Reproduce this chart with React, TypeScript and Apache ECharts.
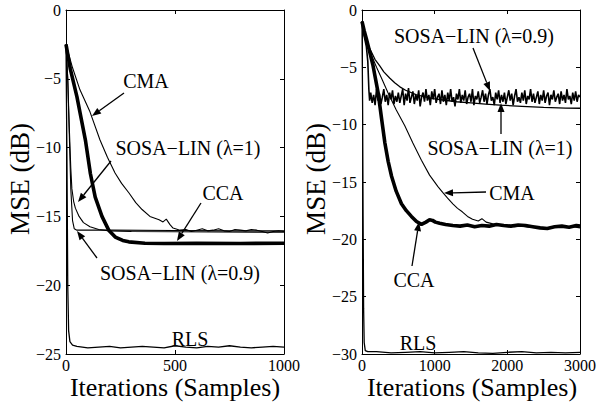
import React, { useEffect, useRef } from "react";
import * as echarts from "echarts";

// ---------- Left panel data (x: samples, y: MSE dB) ----------
const L_RLS: [number, number][] = [
  [0, -2.5], [4, -10], [8, -20], [12, -23.3], [18, -24.1], [30, -24.35], [50, -24.45],
  [100, -24.55], [150, -24.5], [200, -24.45], [250, -24.55], [300, -24.5], [350, -24.45],
  [400, -24.5], [450, -24.55], [500, -24.4], [550, -24.5], [600, -24.55], [650, -24.45],
  [700, -24.5], [750, -24.4], [800, -24.5], [850, -24.55], [900, -24.5], [950, -24.45], [1000, -24.5],
];
const L_SOSA09: [number, number][] = [
  [0, -2.5], [8, -5], [15, -9], [22, -13], [30, -15.3], [38, -15.9], [50, -16.0],
  [200, -16.0], [500, -16.02], [800, -16.05], [1000, -16.05],
];
const L_SOSA1: [number, number][] = [
  [0, -2.5], [8, -5], [15, -8.5], [22, -11.5], [27, -13.0], [35, -13.9], [43, -14.4],
  [60, -15.0], [80, -15.45], [110, -15.75], [150, -15.95], [200, -16.05], [300, -16.1],
  [500, -16.12], [1000, -16.15],
];
const L_CMA: [number, number][] = [
  [0, -2.5], [30, -4.2], [64, -5.8], [110, -7.4], [156, -9.45], [190, -10.7], [225, -11.85],
  [255, -12.6], [289, -13.3], [320, -14.0], [349, -14.5], [385, -15.0], [427, -15.25],
  [445, -15.4], [460, -15.2], [477, -15.6], [491, -15.85], [523, -16.0], [550, -15.95],
  [575, -16.1], [600, -16.0], [625, -15.9], [650, -16.05], [675, -16.0], [700, -15.9],
  [725, -16.05], [750, -16.1], [775, -15.95], [800, -16.0], [825, -16.05], [850, -15.95],
  [875, -16.0], [900, -16.1], [925, -16.2], [950, -16.1], [975, -16.05], [1000, -16.1],
];
const L_CCA: [number, number][] = [
  [0, -2.5], [20, -4.3], [50, -6.3], [89, -9.45], [112, -11.9], [134, -13.6], [165, -15.0],
  [196, -16.0], [226, -16.5], [260, -16.75], [288, -16.85], [362, -16.95], [450, -16.97],
  [600, -16.95], [800, -16.97], [1000, -16.95],
];

// ---------- Right panel data ----------
const R_RLS: [number, number][] = [
  [0, -1.0], [8, -8], [15, -18], [22, -26], [30, -29], [45, -29.7], [80, -29.8],
  [200, -29.8], [400, -29.9], [600, -29.85], [800, -29.8], [1000, -29.9], [1200, -29.85],
  [1400, -29.8], [1600, -29.9], [1800, -29.95], [2000, -29.85], [2200, -29.8], [2400, -29.9],
  [2600, -29.85], [2800, -29.9], [3000, -29.85],
];
const R_SOSA09_HEAD: [number, number][] = [
  [0, -1.0], [30, -2.3], [60, -3.2], [80, -4.5], [95, -7.0], [105, -7.9],
];
const R_SOSA09_NOISE_START = 120;
const R_SOSA09_NOISE_STEP = 20;
const R_SOSA09_NOISE: number[] = [
  -7.2, -8.1, -7.4, -8.3, -6.9, -7.9, -7.3, -8.2, -7.6, -6.9, -8.0, -7.4, -8.3, -7.2, -7.8, -7.0, -8.2, -7.5, -8.0, -7.2,
  -8.1, -7.5, -6.9, -8.3, -7.3, -7.9, -6.8, -8.1, -7.6, -7.1, -8.2, -7.4, -7.9, -7.0, -8.4, -7.6, -7.2, -8.0, -6.9, -7.9,
  -7.4, -8.3, -7.1, -7.8, -6.9, -8.1, -7.6, -7.3, -8.2, -7.0, -8.0, -7.4, -8.3, -7.2, -7.9, -6.9, -8.0, -7.6, -8.4, -7.3,
  -7.8, -6.9, -8.1, -7.4, -7.9, -7.0, -8.2, -7.6, -7.3, -8.0, -6.9, -8.3, -7.5, -7.8, -7.1, -8.1, -7.6, -7.0, -8.0, -7.3,
  -8.2, -7.4, -6.9, -7.9, -7.6, -8.3, -7.2, -7.8, -7.0, -8.1, -7.4, -8.0, -7.2, -8.2, -7.6, -7.0, -7.9, -7.3, -8.3, -7.5,
  -6.9, -8.0, -7.6, -8.1, -7.2, -7.9, -7.0, -8.2, -7.5, -7.8, -6.9, -8.0, -7.3, -8.1, -7.6, -7.1, -8.2, -7.4, -7.9, -7.0,
  -8.1, -7.5, -7.2, -8.3, -7.4, -7.8, -7.0, -8.0, -7.6, -7.3, -8.2, -7.1, -7.9, -7.4, -8.1, -6.9, -7.8, -7.5, -8.2, -7.2,
  -7.9, -7.1, -8.0, -7.4, -7.6,
];
const R_SOSA1: [number, number][] = [
  [0, -1.0], [30, -2.2], [60, -2.9], [110, -3.4], [178, -4.3], [247, -4.9], [300, -5.4],
  [384, -5.95], [450, -6.35], [521, -6.7], [600, -7.0], [658, -7.15], [750, -7.4], [887, -7.6],
  [1000, -7.75], [1114, -7.85], [1300, -8.0], [1500, -8.1], [1700, -8.2], [1900, -8.3],
  [2200, -8.4], [2500, -8.5], [2800, -8.55], [3000, -8.57],
];
const R_CMA: [number, number][] = [
  [0, -1.0], [30, -1.9], [60, -2.6], [120, -3.8], [200, -5.0], [280, -6.1], [356, -7.2],
  [470, -8.7], [589, -10.1], [700, -11.6], [818, -13.1], [930, -14.4], [1045, -15.4],
  [1110, -15.9], [1178, -16.4], [1250, -16.9], [1315, -17.3], [1380, -17.6], [1452, -18.0],
  [1521, -18.25], [1600, -18.4], [1650, -18.2], [1708, -18.5], [1800, -18.65], [1900, -18.75],
  [2000, -18.8], [2100, -18.9], [2200, -18.85], [2300, -18.95], [2400, -18.9], [2500, -19.0],
  [2600, -18.95], [2700, -18.85], [2800, -18.95], [2900, -18.9], [3000, -19.0],
];
const R_CCA: [number, number][] = [
  [0, -1.0], [30, -1.8], [60, -2.5], [100, -3.5], [150, -4.8], [224, -7.3], [270, -9.5],
  [315, -11.6], [360, -13.2], [407, -14.5], [470, -15.8], [543, -16.9], [610, -17.5],
  [680, -18.0], [750, -18.45], [818, -18.7], [880, -18.5], [930, -18.3], [970, -18.35],
  [1010, -18.5], [1068, -18.6], [1150, -18.7], [1250, -18.8], [1350, -18.85], [1450, -18.75],
  [1550, -18.9], [1650, -18.8], [1750, -18.85], [1850, -18.7], [1950, -18.8], [2050, -18.85],
  [2150, -18.75], [2250, -18.8], [2350, -18.9], [2450, -19.0], [2550, -19.05], [2650, -18.9],
  [2750, -18.85], [2850, -18.95], [2950, -18.8], [3000, -18.85],
];

// ---------- Axis ranges / labels ----------
const X_LABEL = "Iterations (Samples)";
const Y_LABEL = "MSE (dB)";
const LEFT_X = { min: 0, max: 1000, interval: 500 };
const RIGHT_X = { min: 0, max: 3000, interval: 1000 };
const LEFT_Y = { min: -25, max: 0, interval: 5 };
const RIGHT_Y = { min: -30, max: 0, interval: 5 };

// ---------- Annotations (text + arrow) ----------
type Note = { text: string; tx: number; ty: number; arrow: [number, number, number, number] | null };
const NOTES: Note[] = [
  { text: "CMA", tx: 146, ty: 81, arrow: [124, 93, 92, 116] },
  { text: "SOSA\u2212LIN (\u03bb=1)", tx: 188, ty: 148, arrow: [111, 161, 78, 202] },
  { text: "CCA", tx: 223, ty: 193, arrow: [201, 203, 177, 241] },
  { text: "SOSA\u2212LIN (\u03bb=0.9)", tx: 180, ty: 273, arrow: [97, 258, 77, 231] },
  { text: "RLS", tx: 190, ty: 339, arrow: null },
  { text: "SOSA\u2212LIN (\u03bb=0.9)", tx: 474, ty: 36, arrow: [473, 48, 490, 91] },
  { text: "SOSA\u2212LIN (\u03bb=1)", tx: 500, ty: 148, arrow: [501, 134, 501, 103] },
  { text: "CMA", tx: 512, ty: 193, arrow: [486, 192, 444, 193] },
  { text: "CCA", tx: 414, ty: 280, arrow: [412, 266, 419, 222] },
  { text: "RLS", tx: 418, ty: 343, arrow: null },
];

const FONT = "Liberation Serif";

function arrowElements(a: [number, number, number, number]) {
  const [x1, y1, x2, y2] = a;
  const dx = x2 - x1;
  const dy = y2 - y1;
  const len = Math.sqrt(dx * dx + dy * dy);
  const ux = dx / len;
  const uy = dy / len;
  const hl = 9;
  const hw = 3.5;
  const bx = x2 - ux * hl;
  const by = y2 - uy * hl;
  return [
    {
      type: "line",
      shape: { x1, y1, x2: bx, y2: by },
      style: { stroke: "#000", lineWidth: 1.3 },
      silent: true,
    },
    {
      type: "polygon",
      shape: {
        points: [
          [x2, y2],
          [bx - uy * hw, by + ux * hw],
          [bx + uy * hw, by - ux * hw],
        ],
      },
      style: { fill: "#000" },
      silent: true,
    },
  ];
}

function fmt(v: number) {
  return String(v).replace("-", "\u2212");
}

export default function App() {
  const ref = useRef<HTMLDivElement>(null);
  useEffect(() => {
    if (!ref.current) return;
    const chart = echarts.init(ref.current, undefined, { renderer: "svg" });

    const rSosa09: [number, number][] = [
      ...R_SOSA09_HEAD,
      ...R_SOSA09_NOISE.map((y, i) => [R_SOSA09_NOISE_START + i * R_SOSA09_NOISE_STEP, y] as [number, number]),
    ];

    const axisLine = { show: true, onZero: false, lineStyle: { color: "#000", width: 1 } };
    const tick = { show: true, inside: true, length: 4, lineStyle: { color: "#000", width: 1 } };
    const label = { fontFamily: FONT, fontSize: 16, color: "#000", formatter: fmt };

    const mkX = (grid: number, r: any, pos: string, showLabel: boolean) => ({
      type: "value",
      gridIndex: grid,
      position: pos,
      min: r.min,
      max: r.max,
      interval: r.interval,
      axisLine,
      axisTick: tick,
      axisLabel: { ...label, show: showLabel, margin: 3, showMinLabel: true, showMaxLabel: true },
      splitLine: { show: false },
    });
    const mkY = (grid: number, r: any, pos: string, showLabel: boolean) => ({
      type: "value",
      gridIndex: grid,
      position: pos,
      min: r.min,
      max: r.max,
      interval: r.interval,
      axisLine,
      axisTick: tick,
      axisLabel: { ...label, show: showLabel, margin: 5, showMinLabel: true, showMaxLabel: true },
      splitLine: { show: false },
    });

    const line = (data: [number, number][], xi: number, yi: number, w: number, z = 2) => ({
      type: "line",
      data,
      xAxisIndex: xi,
      yAxisIndex: yi,
      showSymbol: false,
      symbol: "none",
      lineStyle: { color: "#000", width: w },
      z,
      silent: true,
    });

    const graphics: any[] = [];
    NOTES.forEach((n) => {
      graphics.push({
        type: "text",
        x: n.tx,
        y: n.ty,
        style: {
          text: n.text,
          fontFamily: FONT,
          fontSize: 20,
          fill: "#000",
          align: "center",
          verticalAlign: "middle",
        },
        silent: true,
        z: 10,
      });
      if (n.arrow) graphics.push(...arrowElements(n.arrow));
    });
    // axis titles
    [66 + 109, 362 + 110].forEach((cx) => {
      graphics.push({
        type: "text",
        x: cx,
        y: 387,
        style: { text: X_LABEL, fontFamily: FONT, fontSize: 26, fill: "#000", align: "center", verticalAlign: "middle" },
        silent: true,
      });
    });
    [20, 316].forEach((cx) => {
      graphics.push({
        type: "text",
        x: cx,
        y: 179,
        rotation: Math.PI / 2,
        style: { text: Y_LABEL, fontFamily: FONT, fontSize: 27, fill: "#000", align: "center", verticalAlign: "middle" },
        silent: true,
      });
    });

    chart.setOption({
      animation: false,
      backgroundColor: "#fff",
      textStyle: { fontFamily: FONT },
      grid: [
        { left: 66, top: 10, width: 218, height: 344 },
        { left: 362, top: 10, width: 219, height: 344 },
      ],
      xAxis: [
        mkX(0, LEFT_X, "bottom", true),
        mkX(0, LEFT_X, "top", false),
        mkX(1, RIGHT_X, "bottom", true),
        mkX(1, RIGHT_X, "top", false),
      ],
      yAxis: [
        mkY(0, LEFT_Y, "left", true),
        mkY(0, LEFT_Y, "right", false),
        mkY(1, RIGHT_Y, "left", true),
        mkY(1, RIGHT_Y, "right", false),
      ],
      series: [
        line(L_RLS, 0, 0, 1.3),
        line(L_SOSA09, 0, 0, 1.1),
        line(L_SOSA1, 0, 0, 1.1),
        line(L_CMA, 0, 0, 1.1),
        line(L_CCA, 0, 0, 3.6, 3),
        line(R_RLS, 2, 2, 1.3),
        line(rSosa09, 2, 2, 1.6),
        line(R_SOSA1, 2, 2, 1.3),
        line(R_CMA, 2, 2, 1.1),
        line(R_CCA, 2, 2, 3.6, 3),
      ],
      graphic: graphics,
    });

    return () => chart.dispose();
  }, []);

  return (
    <div
      ref={ref}
      style={{ position: "fixed", left: 0, top: 0, width: 599, height: 404, background: "#fff" }}
    />
  );
}
